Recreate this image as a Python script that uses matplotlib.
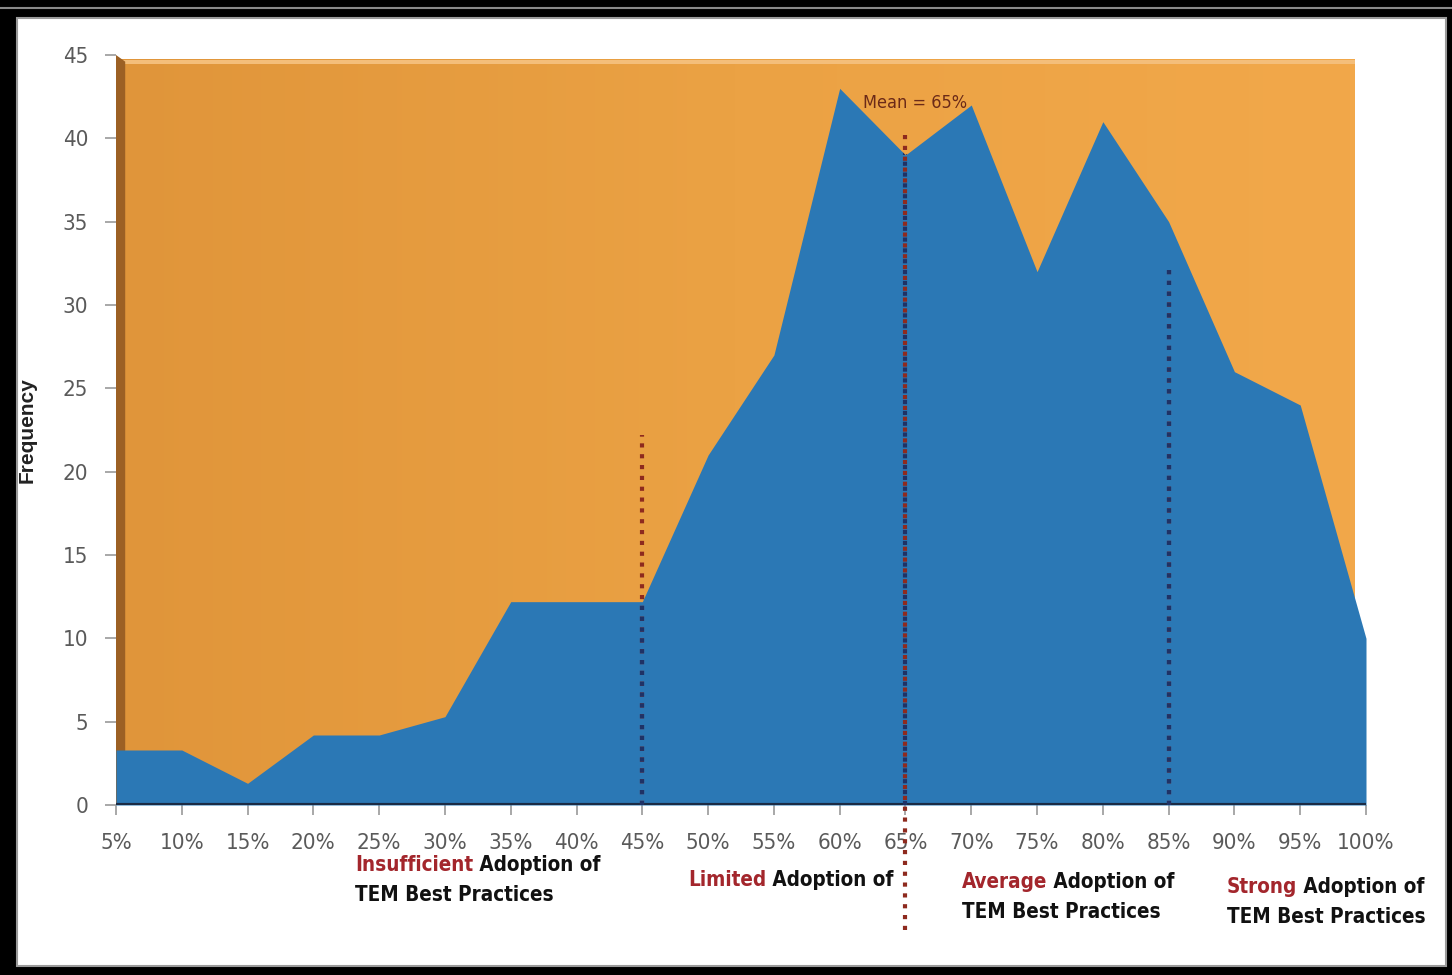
import matplotlib
matplotlib.use("Agg")
import matplotlib.pyplot as plt
import numpy as np
from matplotlib import font_manager
from matplotlib.patches import Rectangle, Polygon
from matplotlib.colors import LinearSegmentedColormap

# ---------------- data ----------------
categories = ["5%", "10%", "15%", "20%", "25%", "30%", "35%", "40%", "45%", "50%",
              "55%", "60%", "65%", "70%", "75%", "80%", "85%", "90%", "95%", "100%"]
frequency = [3.3, 3.3, 1.3, 4.2, 4.2, 5.3, 12.2, 12.2, 12.2, 21, 27, 43, 39, 42, 32, 41, 35, 26, 24, 10]
y_ticks = [0, 5, 10, 15, 20, 25, 30, 35, 40, 45]
mean_label = "Mean = 65%"
divider_positions = ["45%", "65%", "85%"]
divider_tops = [22.2, 40.5, 32.2]
band_red_words = ["Insufficient", "Limited", "Average", "Strong"]
band_rest_line1 = [" Adoption of", " Adoption of", " Adoption of", " Adoption of"]
band_line2 = ["TEM Best Practices", "", "TEM Best Practices", "TEM Best Practices"]

# ---------------- fonts ----------------
fl = font_manager.fontManager.ttflist
names = {f.name for f in fl}
cond_dejavu = any(f.name == "DejaVu Sans" and f.stretch == "condensed" for f in fl)
if "Liberation Sans Narrow" in names:
    NF, STRETCH, TS, BS = ["Liberation Sans Narrow", "DejaVu Sans"], "normal", 18, 17
elif cond_dejavu:
    NF, STRETCH, TS, BS = ["DejaVu Sans"], "condensed", 16, 14.8
else:
    NF, STRETCH, TS, BS = ["Liberation Sans", "DejaVu Sans"], "normal", 15, 14

W, H = 1452, 975
fig = plt.figure(figsize=(W / 100, H / 100), dpi=100, facecolor="black")

def px(x, y):
    return x / W, 1 - y / H

# white inner panel + grey line in the black frame
fig.patches.append(Rectangle(px(17, 966), (1446 - 17) / W, (966 - 18) / H,
                             transform=fig.transFigure, facecolor="white",
                             edgecolor="#9a9a9a", lw=1.5, zorder=-10))
fig.lines.append(plt.Line2D([0, 1], [1 - 8 / H, 1 - 8 / H], transform=fig.transFigure,
                            color="#8a8a8a", lw=1.5, zorder=-9))

x0, x1 = 116, 1366
yb, yt = 805, 55
ax = fig.add_axes([x0 / W, (H - yb) / H, (x1 - x0) / W, (yb - yt) / H])
ax.set_zorder(1)
ax.set_facecolor("none")
n = len(categories)
x = np.arange(n)

# orange background (3D back wall) with slight gradient
orange = LinearSegmentedColormap.from_list("o", ["#E0953A", "#EBA244", "#F2A84A"])
grad = np.linspace(0, 1, 256).reshape(1, -1)
xr = (1355 - x0) / ((x1 - x0) / (n - 1))
ax.imshow(grad, cmap=orange, extent=[0, xr, 0, 44.7], aspect="auto", zorder=0)
ax.add_patch(Rectangle((0, 44.45), xr, 0.25, facecolor="#F4BE7A", edgecolor="none", zorder=0.5))
# brown side wall
ax.add_patch(Polygon([(0, 0), (0, 45), (0.14, 44.6), (0.14, 0)], closed=True,
                     facecolor="#9C6024", edgecolor="none", zorder=1))
ax.set_xlim(0, n - 1)
ax.set_ylim(0, 45)

# blue area
area = ax.fill_between(x, 0, frequency, color="#2B78B5", lw=0, zorder=2)

# baseline
ax.plot([0, n - 1], [0, 0], color="#1B2B44", lw=3, zorder=3, solid_capstyle="butt")

# dividers
for cat, top in zip(divider_positions, divider_tops):
    xi = categories.index(cat)
    bottom = -7.5 if cat == "65%" else 0
    ax.plot([xi, xi], [bottom, top], color="#8E2A1E", lw=3, ls=(0, (1, 1.6)),
            zorder=4, clip_on=False)
    ln, = ax.plot([xi, xi], [0, top], color="#1F3266", lw=3, ls=(0, (1, 1.6)), zorder=5)
    ln.set_clip_path(area.get_paths()[0], ax.transData)

ax.text(11.35, 42.1, mean_label, fontsize=TS - 3, family=NF, fontstretch=STRETCH,
        color="#6B2A18", ha="left", va="center", zorder=6)

# ticks
for s in ax.spines.values():
    s.set_visible(False)
ax.set_xticks(x)
ax.set_xticklabels(categories)
ax.set_yticks(y_ticks)
ax.set_yticklabels([str(v) for v in y_ticks])
ax.tick_params(axis="x", length=7, width=1.2, color="#9a9a9a", pad=13,
               labelsize=TS, labelcolor="#5a5a5a")
ax.tick_params(axis="y", length=8, width=1.2, color="#9a9a9a", pad=12,
               labelsize=TS, labelcolor="#5a5a5a")
for lab in ax.get_xticklabels() + ax.get_yticklabels():
    lab.set_family(NF)
    lab.set_fontstretch(STRETCH)

ax.set_ylabel("Frequency", fontsize=15, fontweight="bold",
              family=["Liberation Sans", "DejaVu Sans"], color="#222222")
ax.yaxis.set_label_coords((37 - x0) / (x1 - x0), 0.5)

# band labels
band_pos = [(355, 865), (688, 880), (962, 882), (1227, 887)]
for (bx, by), red, rest, l2 in zip(band_pos, band_red_words, band_rest_line1, band_line2):
    t1 = fig.text(*px(bx, by), red, fontsize=BS, fontweight="bold", family=NF,
                  fontstretch=STRETCH, color="#A3262C", ha="left", va="center")
    fig.add_artist(plt.Annotation(rest, xy=(1, 0.5), xycoords=t1, fontsize=BS,
                                  fontweight="bold", family=NF, fontstretch=STRETCH,
                                  color="#111111", ha="left", va="center",
                                  annotation_clip=False))
    if l2:
        fig.text(*px(bx, by + 30), l2, fontsize=BS, fontweight="bold", family=NF,
                 fontstretch=STRETCH, color="#111111", ha="left", va="center")

fig.savefig("out.png", dpi=100, facecolor="black")
